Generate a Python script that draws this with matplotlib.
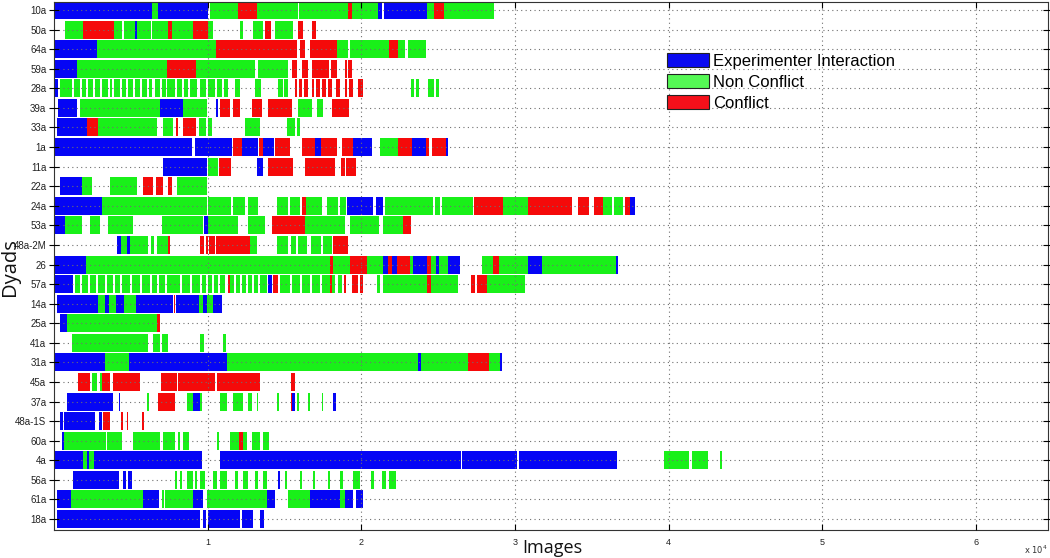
import matplotlib
matplotlib.use('Agg')
import matplotlib.pyplot as plt
from matplotlib.patches import Patch

# ---------------- data ----------------
dyads = ['10a', '50a', '64a', '59a', '28a', '39a', '33a', '1a', '11a', '22a',
         '24a', '53a', '48a-2M', '26', '57a', '14a', '25a', '41a', '31a', '45a',
         '37a', '48a-1S', '60a', '4a', '56a', '61a', '18a']

E, N, C = 'E', 'N', 'C'   # Experimenter Interaction / Non Conflict / Conflict
category_labels = ['Experimenter Interaction', 'Non Conflict', 'Conflict']
category_codes = [E, N, C]

seg_10a = [(0, 6380, E), (6380, 6770, N), (6770, 10030, E), (10150, 11980, N),
           (11980, 13210, C), (13210, 15850, N), (15920, 19140, N), (19140, 19400, C),
           (19400, 21110, N), (21110, 21380, E), (21450, 24300, E), (24300, 24740, N),
           (24740, 25390, C), (25390, 28640, N)]
seg_50a = [(720, 1890, N), (1890, 3910, C), (3910, 4430, N), (4560, 5270, N),
           (5270, 5400, E), (5400, 6300, N), (6400, 7420, N), (7420, 7680, C),
           (7680, 9050, N), (9050, 10030, C), (10030, 10350, N), (12110, 12300, N),
           (12950, 13610, N), (13740, 14130, C), (14390, 15560, N), (15880, 16210, C),
           (16800, 17060, C)]
seg_64a = [(0, 2800, E), (2800, 10550, N), (10550, 15820, C), (16010, 16340, C),
           (16670, 18420, C), (18420, 19150, N), (19250, 21810, N), (21810, 22390, C),
           (22390, 22850, N), (23050, 24220, N)]
seg_59a = [(0, 1500, E), (1500, 7360, N), (7360, 9240, C), (9240, 13080, N),
           (13280, 15230, N), (15490, 15820, C), (16140, 16530, C), (16800, 17900, C),
           (18000, 18420, C), (18940, 19070, C), (19140, 19400, C)]
seg_28a = [(70, 260, E), (390, 1170, N), (1300, 1690, N), (1820, 2080, N),
           (2210, 2540, N), (2670, 2990, N), (3120, 3520, N), (3650, 3780, N),
           (3910, 4300, N), (4430, 4690, N), (4820, 5140, N), (5270, 5600, N),
           (5730, 6050, N), (6180, 6380, N), (6580, 6900, N), (7030, 7290, N),
           (7360, 7880, N), (8010, 8330, N), (8460, 8720, N), (8850, 9310, N),
           (9500, 9900, N), (10030, 10480, N), (10610, 10940, N), (11070, 11330, N),
           (11780, 12110, N), (13090, 13480, N), (14580, 14910, N), (14970, 15230, N),
           (15690, 15820, C), (15950, 16140, C), (16280, 16540, C), (16800, 16930, C),
           (17060, 17320, C), (17450, 17710, C), (17840, 18100, C), (18360, 18620, C),
           (18940, 19070, C), (19200, 19470, C), (19790, 20120, C), (23240, 23440, N),
           (23570, 23760, N), (24350, 24740, N), (24870, 25060, N)]
seg_39a = [(260, 1500, E), (1690, 6900, N), (6900, 8400, E), (8400, 9960, N),
           (10550, 10680, E), (10810, 11460, C), (11650, 12110, C), (12890, 13540, C),
           (13930, 15490, C), (15880, 16800, N), (17120, 17510, N), (18100, 19070, C),
           (19100, 19200, C)]
seg_33a = [(200, 2150, E), (2150, 2860, C), (2860, 6700, N), (7100, 7750, N),
           (7940, 8070, C), (8400, 9240, C), (9440, 9900, N), (10030, 10290, N),
           (12430, 13410, N), (15170, 15690, N), (15820, 16010, N)]
seg_1a = [(0, 8980, E), (9180, 11590, E), (11650, 12240, C), (12240, 13280, E),
          (13350, 13610, C), (13610, 14320, E), (14390, 15360, C), (16140, 16990, C),
          (16990, 17380, E), (17380, 18420, C), (18750, 19470, C), (19470, 20700, E),
          (21220, 22390, N), (22390, 23310, C), (23310, 24220, E), (24220, 24410, C),
          (24610, 25520, C), (25520, 25650, E)]
seg_11a = [(7100, 9960, E), (10030, 10680, N), (10740, 11520, C), (13220, 13610, E),
           (13930, 15560, C), (16340, 18290, C), (18680, 18940, C), (19010, 19660, C)]
seg_22a = [(390, 1820, E), (1820, 2470, N), (3650, 5400, N), (5790, 6440, C),
           (6640, 7100, C), (7420, 7680, C), (8010, 9960, N)]
seg_24a = [(0, 3120, E), (3120, 9960, N), (10030, 11520, N), (11650, 12430, N),
           (12630, 13280, N), (14520, 15230, N), (15360, 16010, N), (16140, 16410, C),
           (16410, 17450, N), (17770, 18490, N), (18620, 19010, N),
           (19070, 20770, E), (20960, 21420, E), (21550, 24670, N), (24800, 25130, N),
           (25260, 27280, N), (27340, 29230, C), (29230, 30860, N), (30860, 33720, C),
           (34110, 34830, C), (35150, 35740, C), (35740, 36330, N), (36460, 37040, N),
           (37170, 37500, C), (37500, 37820, E)]
seg_53a = [(0, 720, E), (720, 1820, N), (2340, 2990, N), (3520, 5140, N),
           (7030, 9700, N), (9770, 10030, E), (10030, 11980, N), (12630, 13740, N),
           (14190, 16340, C), (16340, 18940, N), (19270, 21160, N), (21420, 22720, N),
           (22720, 23240, C)]
seg_48a_2M = [(4100, 4360, E), (4360, 4750, N), (4750, 4950, E), (4950, 6120, N),
              (6320, 6510, N), (6710, 7420, N), (7420, 7550, C), (9500, 9770, C),
              (9900, 10030, C), (10090, 10480, C), (10550, 12760, C), (12760, 13220, N),
              (14520, 15230, N), (15430, 15750, N), (15880, 16470, N), (16730, 17380, N),
              (17510, 18100, N), (18160, 19140, C)]
seg_26 = [(0, 2080, E), (2080, 17970, N), (17970, 18160, C), (18160, 19270, N),
          (19270, 20380, C), (20380, 21420, N), (21420, 21740, E), (21740, 22000, C),
          (22000, 22330, E), (22330, 23180, C), (23180, 23370, N), (23370, 24280, E),
          (24280, 24540, C), (24540, 24870, N), (24870, 25060, E), (25060, 25650, N),
          (25650, 26430, E), (27860, 28580, N), (28580, 28970, C), (28970, 30860, N),
          (30860, 31770, E), (31770, 36590, N), (36590, 36720, E)]
seg_57a = [(0, 1240, E), (1370, 1690, N), (1820, 2210, N), (2340, 2730, N),
           (2860, 3320, N), (3450, 3840, N), (3970, 4300, N), (4430, 4950, N),
           (5080, 5600, N), (5730, 6250, N), (6380, 6710, N), (6840, 7230, N),
           (7360, 8200, N), (8330, 8850, N), (8980, 9500, N), (9630, 9900, N),
           (10030, 10290, N), (10420, 10680, N), (10810, 11130, N), (11330, 11460, C),
           (11460, 11720, N), (11850, 12110, N), (12240, 12500, N), (12630, 12890, N),
           (13020, 13280, N), (13410, 13870, N), (13930, 14190, E), (14260, 14580, C),
           (14710, 15360, N), (15490, 16010, N), (16140, 16670, N), (16800, 17320, N),
           (17450, 17970, N), (17970, 18100, C), (18100, 18290, N), (18490, 18750, N),
           (18880, 19010, C), (19400, 19790, C), (19920, 20120, C),
           (21030, 21220, N), (21420, 24280, N), (24280, 24540, C),
           (24540, 26300, N), (27150, 27410, C), (27540, 28190, C), (28190, 30660, N)]
seg_14a = [(200, 2860, E), (2860, 3320, N), (3320, 3580, E), (3580, 4040, N),
           (4040, 4560, E), (4560, 5340, N), (5340, 7750, E), (7810, 7880, C),
           (7940, 9440, E), (9440, 9700, N), (9700, 9960, E), (9960, 10350, N),
           (10350, 10940, E)]
seg_25a = [(390, 850, E), (850, 6700, N), (6700, 6900, C)]
seg_41a = [(1170, 6120, N), (6440, 6900, N), (7030, 7420, N), (9500, 9770, N),
           (11000, 11200, N)]
seg_31a = [(0, 3320, E), (3320, 4880, N), (4880, 11260, E), (11260, 23700, N),
           (23700, 23890, E), (23890, 26950, N), (26950, 28320, C), (28320, 29030, N),
           (29030, 29160, E)]
seg_45a = [(1560, 2340, C), (2470, 2800, N), (2990, 3120, N), (3120, 3650, C),
           (3840, 5600, C), (6970, 8010, C), (8070, 10480, C), (10610, 13410, C),
           (15430, 15690, C)]
seg_37a = [(850, 3840, E), (4230, 4300, E), (6050, 6180, N), (6770, 7880, C),
           (8660, 9050, N), (9050, 9500, E), (9500, 9640, N), (10810, 11260, N),
           (11650, 12300, N), (12630, 12890, N), (13220, 13280, N), (14520, 14650, N),
           (15430, 15490, C), (15490, 15690, E), (15820, 15950, N), (16530, 16670, N),
           (17450, 17510, N), (18160, 18360, E)]
seg_48a_1S = [(390, 590, E), (650, 2670, E), (2930, 3120, E), (3190, 3650, C),
              (4360, 4490, C), (4750, 4820, C), (5730, 5860, C)]
seg_60a = [(520, 650, E), (650, 3390, N), (3450, 4430, N), (5140, 6900, N),
           (7100, 7880, N), (8070, 8200, N), (8400, 8790, N), (10610, 10740, N),
           (11460, 12040, N), (12040, 12300, C), (12300, 12560, N), (12890, 13410, N),
           (13610, 14000, N)]
seg_4a = [(0, 1890, E), (1890, 2150, N), (2150, 2280, E), (2280, 2600, N),
          (2600, 9640, E), (10810, 26500, E), (26560, 30140, E), (30270, 36650, E),
          (39710, 41340, N), (41530, 42580, N), (43360, 43490, N)]
seg_56a = [(1240, 4230, E), (4490, 4690, E), (4820, 5080, E), (7880, 8010, N),
           (8200, 8330, N), (8660, 9050, N), (9180, 9310, N), (9500, 9830, N),
           (10350, 10610, N), (10810, 11260, N), (11780, 11980, N), (12300, 12630, N),
           (13090, 13280, N), (13610, 13870, N), (14580, 14710, E), (15040, 15170, N),
           (16010, 16140, N), (16860, 16990, N), (17840, 17970, N), (18620, 18810, N),
           (19470, 19920, N), (20640, 20830, N), (21350, 21610, N), (21810, 22260, N)]
seg_61a = [(200, 1110, E), (1110, 5790, N), (5790, 6840, E), (7030, 7160, N),
           (7230, 9050, N), (9050, 9700, E), (9960, 13870, N), (13870, 14390, E),
           (15230, 16670, N), (16670, 18620, E), (18620, 18940, N), (18940, 19470, E),
           (19660, 20120, E)]
seg_18a = [(200, 9500, E), (9700, 9900, E), (10030, 12110, E), (12240, 12960, E),
           (13410, 13670, E)]

segments = [seg_10a, seg_50a, seg_64a, seg_59a, seg_28a, seg_39a, seg_33a, seg_1a,
            seg_11a, seg_22a, seg_24a, seg_53a, seg_48a_2M, seg_26, seg_57a, seg_14a,
            seg_25a, seg_41a, seg_31a, seg_45a, seg_37a, seg_48a_1S, seg_60a, seg_4a,
            seg_56a, seg_61a, seg_18a]

x_ticks = [10000, 20000, 30000, 40000, 50000, 60000]
x_ticklabels = ['1', '2', '3', '4', '5', '6']

# ---------------- style ----------------
bar_colors = {E: '#0505f5', N: '#19f019', C: '#f50a0a'}
legend_colors = {E: '#0a0af0', N: '#55f855', C: '#f5101a'}

fig = plt.figure(figsize=(10.5, 5.58), dpi=100)
ax = fig.add_axes([54 / 1050, 28 / 558, 994 / 1050, 528 / 558])

h = 0.92
for i, segs in enumerate(segments):
    for code in category_codes:
        bars = [(s, e - s) for s, e, c in segs if c == code]
        if bars:
            ax.broken_barh(bars, (i - h / 2, h), facecolors=bar_colors[code],
                           edgecolor='none', linewidth=0)

ax.set_xlim(0, 64700)
ax.set_ylim(26.56, -0.41)
ax.set_yticks(range(len(dyads)))
ax.set_yticklabels(dyads, fontsize=7, color='#222222', family='Liberation Sans')
ax.set_xticks(x_ticks)
ax.set_xticklabels(x_ticklabels, fontsize=6.5, color='#222222', family='Liberation Sans')
ax.tick_params(axis='x', direction='in', top=True, length=4, pad=6)
ax.tick_params(axis='y', direction='inout', right=True, length=7, pad=2)

ax.set_axisbelow(False)
ax.grid(True, linestyle=(0, (1, 3)), color='#707070', linewidth=0.8)
for sp in ax.spines.values():
    sp.set_color('#333333')
    sp.set_linewidth(0.8)

fig.text(552 / 1050, 5 / 558, 'Images', ha='center', va='baseline', fontsize=13,
         family='Open Sans', color='#111111')
fig.text(10 / 1050, 1 - 267 / 558, 'Dyads', ha='center', va='center', rotation=90,
         fontsize=14.5, family='Open Sans', color='#111111')
ax.text(1.0, -0.025, r'x 10$^{4}$', transform=ax.transAxes, ha='right', va='top',
        fontsize=6, color='#333333')

handles = [Patch(facecolor=legend_colors[c], edgecolor='#222222', linewidth=0.8)
           for c in category_codes]
ax.legend(handles, category_labels, loc='upper left', bbox_to_anchor=(0.610, 0.916),
          frameon=False, prop={'family': 'Liberation Sans', 'size': 12},
          handlelength=2.5, handleheight=0.9, labelspacing=0.33, handletextpad=0.24,
          borderpad=0.4, borderaxespad=0)

fig.savefig('out.png', dpi=100)
